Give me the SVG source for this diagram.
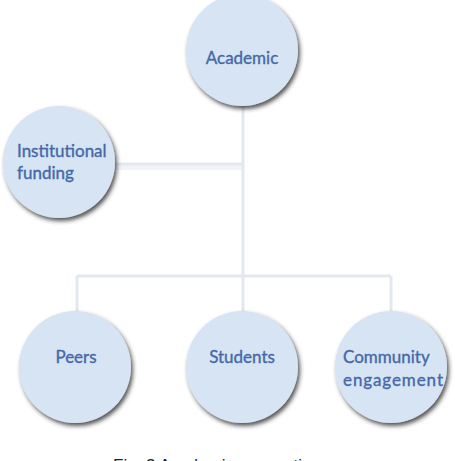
<svg xmlns="http://www.w3.org/2000/svg" width="455" height="461" viewBox="0 0 455 461">
<defs>
<filter id="sh" x="-20%" y="-20%" width="150%" height="150%">
<feDropShadow dx="2" dy="3" stdDeviation="2" flood-color="#2a2a2a" flood-opacity="0.8"/>
</filter>
<style>
.node circle{fill:#d6e4f3;filter:url(#sh)}
.node text{font-family:Lato,"Liberation Sans",sans-serif;font-size:17px;fill:#4568a8;stroke:#4568a8;stroke-width:0.35}
.c{text-anchor:middle}
.conn path{fill:none;stroke:#e3e8f0;stroke-width:3}
.conn .band{stroke:#f1f3f7;stroke-width:6}
.cap{font-family:"Liberation Sans",Arial,sans-serif;font-size:17px;fill:#222}
</style>
</defs>
<rect width="455" height="461" fill="#ffffff"/>
<g id="connectors" class="conn">
<path class="band" d="M115 167 H243"/>
<path d="M243 106 V276 M113 164 H243 M77 276 H391 M77 276 V312 M243 276 V312 M391 276 V312"/>
</g>
<g id="academic" class="node">
<circle cx="242" cy="50" r="56"/>
<text class="c" x="242" y="64">Academic</text>
</g>
<g id="institutional" class="node">
<circle cx="59" cy="162" r="56"/>
<text x="17" y="157">Institutional</text>
<text x="17" y="179">funding</text>
</g>
<g id="peers" class="node">
<circle cx="75" cy="367" r="56"/>
<text class="c" x="76" y="363">Peers</text>
</g>
<g id="students" class="node">
<circle cx="242" cy="367" r="56"/>
<text class="c" x="242" y="363">Students</text>
</g>
<g id="community" class="node">
<circle cx="391" cy="367" r="56"/>
<text x="343" y="363">Community</text>
<text x="343" y="386" textLength="100">engagement</text>
</g>
<text class="cap" x="113" y="471">Fig. 3 Academic connections</text>
</svg>
